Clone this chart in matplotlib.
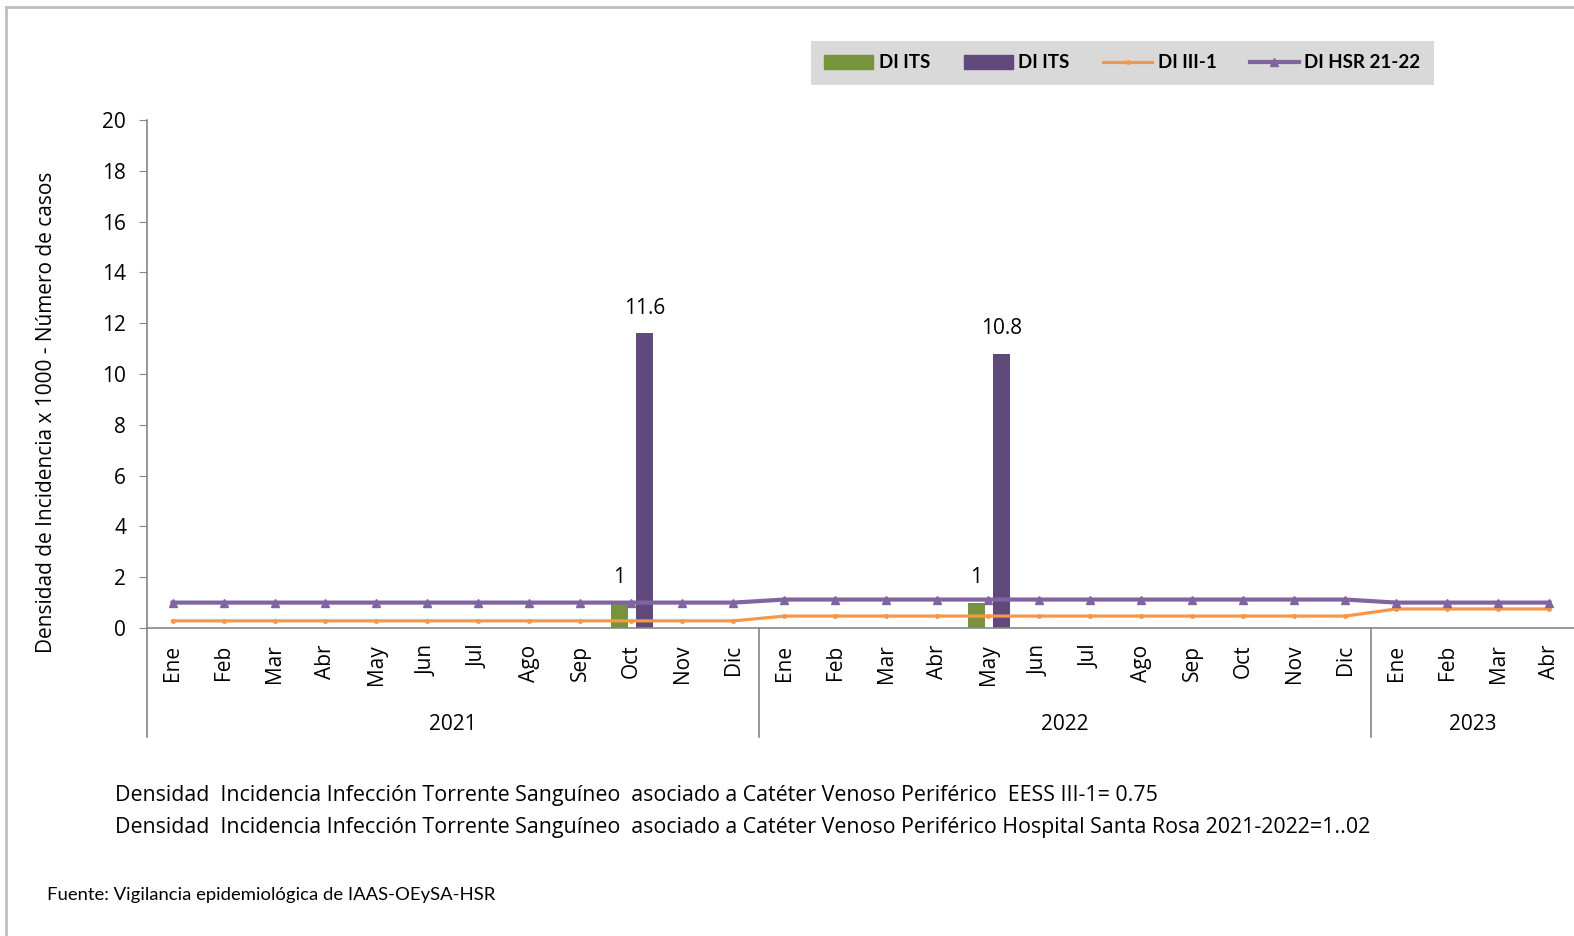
import numpy as np
import matplotlib
matplotlib.use("Agg")
import matplotlib.pyplot as plt
from matplotlib.lines import Line2D
from matplotlib.patches import Patch
import matplotlib.transforms as mtransforms

plt.rcParams['font.family'] = ['Open Sans', 'DejaVu Sans']

# data
months = ['Ene', 'Feb', 'Mar', 'Abr', 'May', 'Jun', 'Jul', 'Ago', 'Sep', 'Oct', 'Nov', 'Dic',
          'Ene', 'Feb', 'Mar', 'Abr', 'May', 'Jun', 'Jul', 'Ago', 'Sep', 'Oct', 'Nov', 'Dic',
          'Ene', 'Feb', 'Mar', 'Abr']
years = ['2021', '2022', '2023']
year_len = [12, 12, 4]
nan = np.nan
its_casos = [nan, nan, nan, nan, nan, nan, nan, nan, nan, 1, nan, nan,
             nan, nan, nan, nan, 1, nan, nan, nan, nan, nan, nan, nan,
             nan, nan, nan, nan]
its_dens = [nan, nan, nan, nan, nan, nan, nan, nan, nan, 11.6, nan, nan,
            nan, nan, nan, nan, 10.8, nan, nan, nan, nan, nan, nan, nan,
            nan, nan, nan, nan]
di_iii1 = [0.28, 0.28, 0.28, 0.28, 0.28, 0.28, 0.28, 0.28, 0.28, 0.28, 0.28, 0.28,
           0.47, 0.47, 0.47, 0.47, 0.47, 0.47, 0.47, 0.47, 0.47, 0.47, 0.47, 0.47,
           0.75, 0.75, 0.75, 0.75]
di_hsr = [1.0, 1.0, 1.0, 1.0, 1.0, 1.0, 1.0, 1.0, 1.0, 1.0, 1.0, 1.0,
          1.12, 1.12, 1.12, 1.12, 1.12, 1.12, 1.12, 1.12, 1.12, 1.12, 1.12, 1.12,
          1.0, 1.0, 1.0, 1.0]

green = '#77933C'
purple_bar = '#604A7B'
orange = '#F79646'
purple_line = '#8064A2'
axis_gray = '#868686'
fs = 15

W, H = 1574, 936
fig = plt.figure(figsize=(W / 100, H / 100), dpi=100)
ax = fig.add_axes([147 / W, 1 - 628 / H, 1428 / W, 508 / H])

x = np.arange(len(months))
ax.bar(x - 0.24, its_casos, width=0.33, color=green, zorder=2)
ax.bar(x + 0.26, its_dens, width=0.33, color=purple_bar, zorder=2)
ax.plot(x, di_iii1, color=orange, lw=2.3, marker='o', ms=2.5, zorder=3)
ax.plot(x, di_hsr, color=purple_line, lw=3, marker='^', ms=6, zorder=4)

for i in range(len(months)):
    if not np.isnan(its_casos[i]):
        ax.annotate(f"{its_casos[i]:g}", (x[i] - 0.24, its_casos[i]), xytext=(0, 18),
                    textcoords='offset points', ha='center', va='center', fontsize=fs)
    if not np.isnan(its_dens[i]):
        ax.annotate(f"{its_dens[i]:g}", (x[i] + 0.26, its_dens[i]), xytext=(0, 18),
                    textcoords='offset points', ha='center', va='center', fontsize=fs)

ax.set_xlim(-0.5, len(months) - 0.5)
ax.set_ylim(0, 20)
ax.set_yticks(range(0, 21, 2))
ax.tick_params(axis='y', labelsize=fs, length=6, color=axis_gray, pad=9)
ax.set_xticks(x)
ax.set_xticklabels(months, rotation=90, fontsize=fs)
ax.tick_params(axis='x', length=0, pad=12)
for s in ['top', 'right']:
    ax.spines[s].set_visible(False)
for s in ['left', 'bottom']:
    ax.spines[s].set_color(axis_gray)
    ax.spines[s].set_linewidth(1.2)

# multi-level category axis: year separators and labels
trans = mtransforms.blended_transform_factory(ax.transData, ax.transAxes)
start = 0
bounds = [-0.5]
for yr, n in zip(years, year_len):
    ax.text(start + (n - 1) / 2, -0.19, yr, transform=trans, ha='center', va='center', fontsize=fs)
    start += n
    bounds.append(start - 0.5)
for b in bounds[:-1]:
    ax.plot([b, b], [0, -0.2146], transform=trans, color=axis_gray, lw=1.2, clip_on=False)

fig.text(47 / W, 1 - 412 / H, 'Densidad de Incidencia x 1000 - Número de casos',
         rotation=90, ha='center', va='center', fontsize=fs)

handles = [Patch(color=green), Patch(color=purple_bar),
           Line2D([], [], color=orange, lw=2.3, marker='o', ms=2.5),
           Line2D([], [], color=purple_line, lw=3, marker='^', ms=6)]
labels = ['DI ITS', 'DI ITS', 'DI III-1', 'DI HSR 21-22']
leg = fig.legend(handles, labels, ncol=4, loc='center',
                 bbox_to_anchor=((814 + 1431) / 2 / W, 1 - 63 / H),
                 frameon=True, facecolor='#D9D9D9', edgecolor='none', fancybox=False,
                 prop={'family': ['Lato', 'DejaVu Sans'], 'weight': 'bold', 'size': 13.5},
                 handlelength=2.6, handleheight=0.8,
                 handletextpad=0.3, columnspacing=1.8, borderpad=0.7)
leg.get_frame().set_alpha(1)

fig.text(115 / W, 1 - 796 / H,
         'Densidad  Incidencia Infección Torrente Sanguíneo  asociado a Catéter Venoso Periférico  EESS III-1= 0.75',
         ha='left', va='center', fontsize=15.4)
fig.text(115 / W, 1 - 827 / H,
         'Densidad  Incidencia Infección Torrente Sanguíneo  asociado a Catéter Venoso Periférico Hospital Santa Rosa 2021-2022=1..02',
         ha='left', va='center', fontsize=15.4)
fig.text(47 / W, 1 - 895 / H, 'Fuente: Vigilancia epidemiológica de IAAS-OEySA-HSR',
         ha='left', va='center', fontsize=13.3, family=['Lato', 'DejaVu Sans'])

# outer border (top and left edges)
fig.add_artist(Line2D([6 / W, 1], [1 - 7 / H, 1 - 7 / H], color='#BFBFBF', lw=2))
fig.add_artist(Line2D([6 / W, 6 / W], [0, 1 - 7 / H], color='#BFBFBF', lw=2))

fig.savefig('out.png', dpi=100)
